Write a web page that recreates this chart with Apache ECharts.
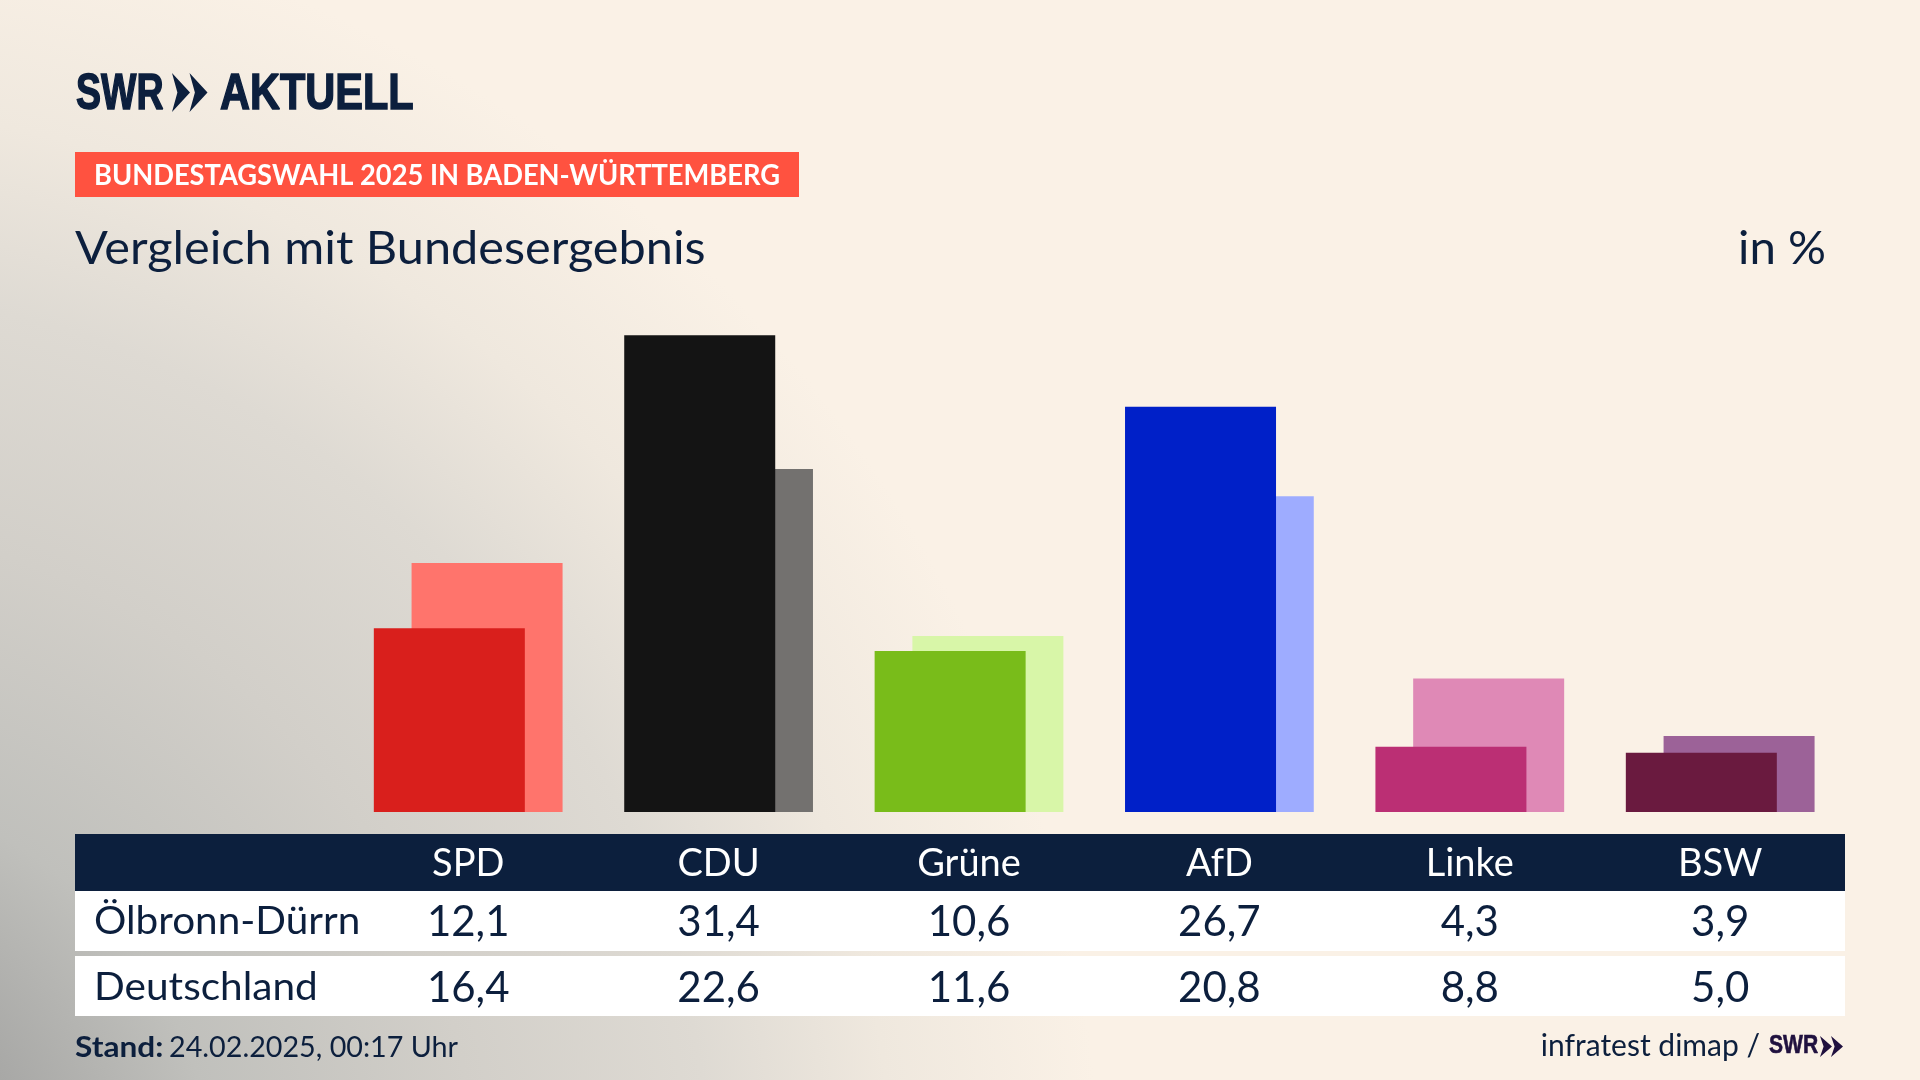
<!DOCTYPE html>
<html>
<head>
<meta charset="utf-8">
<title>Vergleich mit Bundesergebnis</title>
<script src="https://cdn.jsdelivr.net/npm/echarts@6/dist/echarts.min.js"></script>
<style>
html,body{margin:0;padding:0;width:1920px;height:1080px;overflow:hidden;background:#faf1e6;}
#bg{position:absolute;left:0;top:0;width:1920px;height:1080px;
  background:radial-gradient(circle 1300px at -200px 1200px,#a8a8a6 18%,#c0c0bc 32%,#d2cfc9 52%,#dedad3 70%,#efe8de 84%,#faf1e6 100%);}
#chart{position:absolute;left:0;top:0;width:1920px;height:1080px;}
</style>
</head>
<body>
<div id="bg"></div>
<div id="chart"></div>
<script>
var parties = ['SPD','CDU','Grüne','AfD','Linke','BSW'];
var oelbronn = [12.1,31.4,10.6,26.7,4.3,3.9];
var deutschland = [16.4,22.6,11.6,20.8,8.8,5.0];
var frontColors = ['#d91f1c','#141414','#79bc1a','#0020c8','#bb2f74','#6a1a3f'];
var backColors = ['#ff746c','#73716f','#d8f6a8','#9eacff','#df89b6','#9c6298'];

var navy = '#0c1f3d';
var font = 'Lato';
var logoFont = 'Liberation Sans';

function de(v){ return v.toFixed(1).replace('.',','); }

function bars(values,colors){
    return values.map(function(v,i){
        return {value:v,itemStyle:{color:colors[i]}};
    });
}

// zeile unter den balken, label sitzt per margin in der tabelle
function rowAxis(labels,margin,color,size){
    return {
        type:'category',
        gridIndex:0,
        position:'bottom',
        data:labels,
        axisLine:{show:false},
        axisTick:{show:false},
        axisLabel:{show:true,interval:0,margin:margin,verticalAlign:'middle',color:color,fontSize:size,fontFamily:font}
    };
}

function rect(x,y,w,h,color){
    return {type:'rect',z:0,silent:true,shape:{x:x,y:y,width:w,height:h},style:{fill:color}};
}

// scale = horizontal stauchen, die originalschrift ist schmaler
function txt(x,y,text,size,color,opt){
    opt = opt || {};
    return {type:'text',z:10,silent:true,x:x,y:y,scaleX:opt.scale||1,
        style:{text:text,font:(opt.weight||'normal')+' '+size+'px "'+(opt.family||font)+'"',fill:color,textAlign:opt.align||'left',textVerticalAlign:'middle',
            stroke:opt.heavy?color:null,lineWidth:opt.heavy||0}};
}

// doppelpfeil vom swr logo
function chevrons(x,top,h,w,step,color){
    var out = [];
    for(var i=0;i<2;i++){
        var x0 = x+i*step;
        out.push({type:'polygon',z:10,silent:true,shape:{points:[
            [x0,top],[x0+w,top+h/2],[x0,top+h],[x0+w*0.3,top+h/2]
        ]},style:{fill:color}});
    }
    return out;
}

var graphics = [
    rect(75,834,1770,57,navy),
    rect(75,891,1770,60,'#ffffff'),
    rect(75,956,1770,60,'#ffffff'),
    rect(75,152,724,45,'#ff5240'),
    txt(76,95,'SWR',50,navy,{weight:'bold',family:logoFont,scale:0.75,heavy:1.5}),
    txt(220,95,'AKTUELL',50,navy,{weight:'bold',family:logoFont,scale:0.83,heavy:1.5}),
    txt(94,176,'BUNDESTAGSWAHL 2025 IN BADEN-WÜRTTEMBERG',29,'#ffffff',{weight:'bold',scale:0.94}),
    txt(75,249,'Vergleich mit Bundesergebnis',46,navy,{scale:1.058}),
    txt(1826,249,'in %',46,navy,{align:'right',scale:1.03}),
    txt(94,921,'Ölbronn-Dürrn',39,navy,{scale:1.038}),
    txt(94,987,'Deutschland',39,navy,{scale:1.04}),
    txt(75,1048,'Stand:',29,navy,{weight:'bold',scale:1.09}),
    txt(169,1048,'24.02.2025, 00:17 Uhr',29,navy,{scale:0.99}),
    txt(1760,1046,'infratest dimap /',30,navy,{align:'right'}),
    txt(1769,1046,'SWR',26,'#20113f',{weight:'bold',family:logoFont,scale:0.81,heavy:0.6})
].concat(chevrons(172,73,39,18,17.5,navy)).concat(chevrons(1820,1036,21,12,11,'#20113f'));

var myChart = echarts.init(document.getElementById('chart'));
myChart.setOption({
    backgroundColor:'transparent',
    animation:false,
    textStyle:{fontFamily:font},
    tooltip:{show:false},
    grid:{left:343,top:280.7,width:1502.4,height:531.3,containLabel:false},
    xAxis:[
        rowAxis(parties,52,'#ffffff',38),
        rowAxis(oelbronn.map(de),110,navy,42),
        rowAxis(deutschland.map(de),176,navy,42)
    ],
    yAxis:{type:'value',min:0,max:35,show:false,splitLine:{show:false}},
    graphic:{elements:graphics},
    series:[
        {name:'Ölbronn-Dürrn',type:'bar',z:3,silent:true,barWidth:151,barGap:'-75%',data:bars(oelbronn,frontColors)},
        {name:'Deutschland',type:'bar',z:2,silent:true,barWidth:151,barGap:'-75%',data:bars(deutschland,backColors)}
    ]
});
</script>
</body>
</html>
